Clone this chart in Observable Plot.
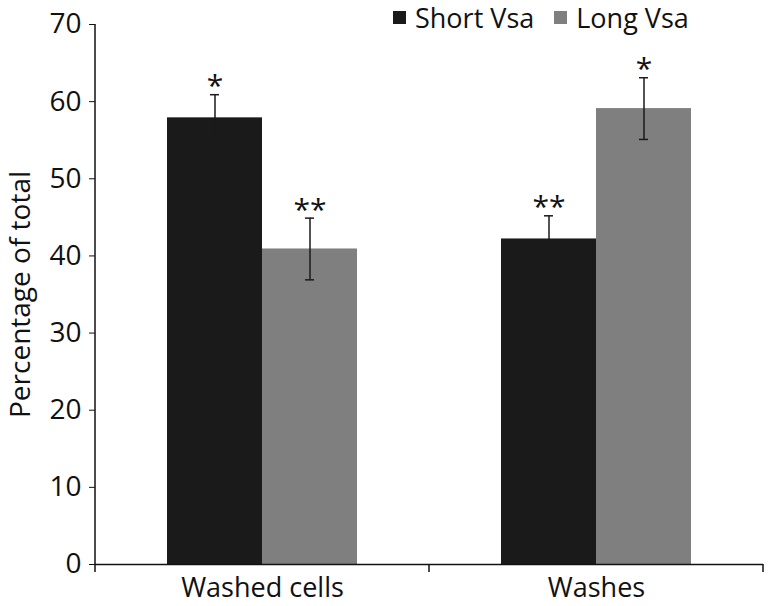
<!DOCTYPE html>
<html>
<head>
<meta charset="utf-8">
<script src="https://cdn.jsdelivr.net/npm/d3@7"></script>
<script src="https://cdn.jsdelivr.net/npm/@observablehq/plot@0.6"></script>
<style>
  body { margin: 0; background: #fff; font-family: "Open Sans", sans-serif; }
  #wrap { position: relative; width: 768px; height: 606px; }
  #legend { position: absolute; top: 0; left: 393px; height: 34px; display: flex; align-items: center; font-size: 27px; color: #111; }
  #legend .sw { width: 13px; height: 13px; display: inline-block; margin-right: 9px; }
  #legend .item { display: flex; align-items: center; margin-right: 20px; }
</style>
</head>
<body>
<div id="wrap"><div id="legend"></div></div>
<script>
const categories = ["Washed cells", "Washes"];
const series = ["Short Vsa", "Long Vsa"];
const colors = ["#1a1a1a", "#7f7f7f"];
const shortValues = [57.9, 42.2];
const shortErrors = [3.0, 3.0];
const shortSig = ["*", "**"];
const longValues = [40.9, 59.1];
const longErrors = [4.0, 4.0];
const longSig = ["**", "*"];
const yTicks = [0, 10, 20, 30, 40, 50, 60, 70];

const rows = [];
categories.forEach((c, i) => {
  rows.push({cat: c, series: series[0], value: shortValues[i], err: shortErrors[i], sig: shortSig[i]});
  rows.push({cat: c, series: series[1], value: longValues[i], err: longErrors[i], sig: longSig[i]});
});
const hi = d => d.value + d.err;
const lo = d => d.value - d.err;
const errColor = "#1a1a1a";

const plot = Plot.plot({
  width: 768,
  height: 606,
  marginLeft: 95,
  marginRight: 5,
  marginTop: 24,
  marginBottom: 42,
  style: {fontFamily: "'Open Sans', sans-serif", color: "#111", background: "#fff", overflow: "visible"},
  fx: {domain: categories, paddingInner: 0, paddingOuter: 0, label: null},
  x: {domain: series, paddingInner: 0, paddingOuter: 0.745, axis: null},
  y: {domain: [0, 70]},
  color: {domain: series, range: colors},
  marks: [
    Plot.barY(rows, {fx: "cat", x: "series", y: "value", fill: "series"}),
    Plot.ruleX(rows, {fx: "cat", x: "series", y1: lo, y2: hi, stroke: errColor, strokeWidth: 1.5}),
    Plot.tickY(rows, {fx: "cat", x: "series", y: hi, insetLeft: 43, insetRight: 43, stroke: errColor, strokeWidth: 1.5}),
    Plot.tickY(rows, {fx: "cat", x: "series", y: lo, insetLeft: 43, insetRight: 43, stroke: errColor, strokeWidth: 1.5}),
    Plot.text(rows, {fx: "cat", x: "series", y: hi, text: "sig", dy: -8, lineAnchor: "middle", fontSize: 30, fill: "#111"}),
    Plot.ruleY([0], {stroke: "#111", strokeWidth: 1.5}),
    Plot.axisY({ticks: yTicks, tickSize: 6, tickPadding: 8, fontSize: 28, label: "Percentage of total", labelAnchor: "center", labelArrow: "none", labelOffset: 85}),
    Plot.axisFx({anchor: "bottom", tickSize: 0, tickPadding: 13, fontSize: 27, label: null})
  ]
});

// axis lines and category boundary ticks (Excel style)
const fx = plot.scale("fx");
const ys = plot.scale("y");
const svg = d3.select(plot);
// make sure the y label carries no arrow
svg.selectAll("text").each(function() {
  const t = d3.select(this);
  if (t.text().includes("Percentage")) t.text("Percentage of total");
});
const g = svg.append("g").attr("stroke", "#111").attr("stroke-width", 1.5);
const y0 = ys.apply(0);
const yTop = ys.apply(70);
const left = fx.apply(categories[0]);
g.append("line").attr("x1", left).attr("x2", left).attr("y1", yTop).attr("y2", y0 + 8);
categories.forEach(c => {
  const r = fx.apply(c) + fx.bandwidth;
  g.append("line").attr("x1", r).attr("x2", r).attr("y1", y0).attr("y2", y0 + 8);
});

document.getElementById("wrap").prepend(plot);

const legend = d3.select("#legend");
series.forEach((s, i) => {
  const item = legend.append("div").attr("class", "item");
  item.append("span").attr("class", "sw").style("background", colors[i]);
  item.append("span").text(s);
});
</script>
</body>
</html>
